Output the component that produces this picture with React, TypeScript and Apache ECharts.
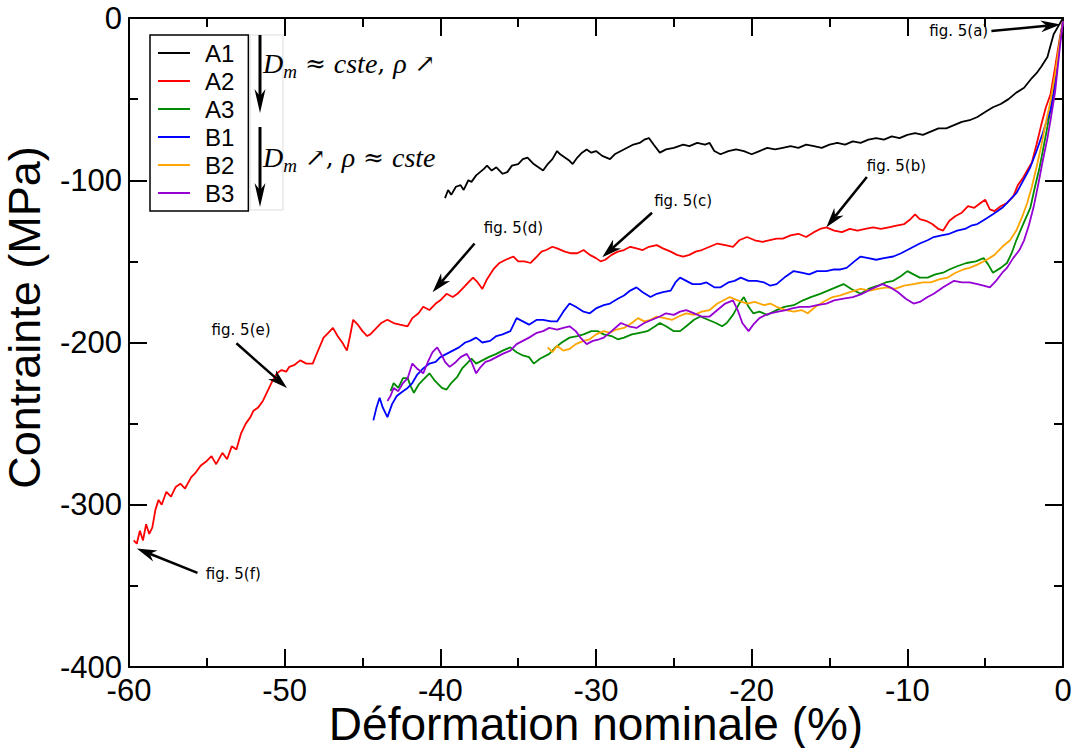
import React, { useEffect, useRef } from "react";
import * as echarts from "echarts";

const seriesNames = ["A1", "A2", "A3", "B1", "B2", "B3"];
const seriesColors = ["#000000", "#ff0000", "#008b00", "#0000ff", "#ffa500", "#9400d3"];

const A1 = [[-39.7,-111],[-39.5,-106],[-39.3,-109],[-39.0,-104],[-38.7,-103],[-38.5,-106],[-38.2,-100],[-38.0,-101],[-37.7,-97],[-37.45,-95],[-37.2,-93],[-37.0,-91],[-36.7,-94],[-36.4,-92],[-36.0,-96],[-35.7,-95],[-35.4,-91],[-35.0,-90],[-34.7,-87],[-34.4,-86],[-34.0,-90],[-33.7,-92],[-33.4,-94],[-33.1,-90],[-32.8,-87],[-32.5,-82],[-32.3,-84],[-32.0,-86],[-31.7,-88],[-31.5,-90],[-31.2,-86],[-30.9,-83],[-30.6,-81],[-30.3,-83],[-30.0,-82],[-29.6,-85],[-29.1,-87],[-28.8,-84],[-28.4,-82],[-28.0,-80],[-27.6,-78],[-27.2,-77],[-26.9,-75],[-26.6,-74],[-26.3,-78],[-25.9,-83],[-25.5,-81],[-25.0,-80],[-24.4,-78],[-24.0,-79],[-23.5,-77],[-23.0,-78],[-22.7,-77],[-22.4,-82],[-22.0,-84],[-21.5,-82],[-21.0,-81],[-20.5,-82],[-20.0,-84],[-19.5,-82],[-19.0,-80],[-18.5,-81],[-18.0,-80],[-17.5,-79],[-17.0,-80],[-16.5,-78],[-16.0,-79],[-15.5,-80],[-15.0,-78],[-14.5,-77],[-14.0,-78],[-13.5,-76],[-13.0,-77],[-12.5,-75],[-12.0,-74],[-11.5,-75],[-11.0,-73],[-10.5,-74],[-10.0,-72],[-9.5,-71],[-9.0,-72],[-8.5,-70],[-8.0,-68],[-7.5,-68],[-7.0,-66],[-6.5,-64],[-6.0,-63],[-5.5,-61],[-5.0,-58],[-4.5,-55],[-4.0,-53],[-3.5,-50],[-3.0,-46],[-2.5,-43],[-2.0,-37],[-1.7,-34],[-1.4,-30],[-1.0,-24],[-0.8,-17],[-0.6,-10],[-0.3,-5],[0,0]];

const A2 = [[-59.7,-322],[-59.5,-324],[-59.3,-316],[-59.1,-322],[-58.9,-312],[-58.7,-318],[-58.5,-314],[-58.3,-303],[-58.1,-297],[-57.9,-300],[-57.6,-292],[-57.3,-295],[-57.0,-289],[-56.7,-287],[-56.4,-290],[-56.0,-283],[-55.7,-280],[-55.4,-276],[-55.0,-273],[-54.7,-270],[-54.4,-275],[-54.0,-268],[-53.7,-272],[-53.4,-264],[-53.1,-266],[-52.8,-256],[-52.5,-250],[-52.2,-246],[-52.0,-242],[-51.7,-240],[-51.4,-236],[-51.1,-230],[-50.8,-224],[-50.5,-219],[-50.2,-217],[-49.9,-218],[-49.7,-215],[-49.4,-214],[-49.0,-211],[-48.6,-213],[-48.2,-213],[-47.9,-206],[-47.5,-197],[-47.2,-194],[-46.9,-191],[-46.6,-196],[-46.3,-200],[-46.0,-205],[-45.8,-196],[-45.6,-186],[-45.3,-189],[-45.0,-193],[-44.7,-196],[-44.5,-195],[-44.1,-191],[-43.8,-188],[-43.4,-186],[-43.0,-188],[-42.6,-189],[-42.1,-190],[-41.8,-185],[-41.4,-182],[-41.1,-178],[-40.7,-180],[-40.3,-176],[-40.0,-174],[-39.6,-170],[-39.2,-172],[-38.9,-170],[-38.5,-166],[-38.2,-163],[-37.9,-160],[-37.6,-163],[-37.3,-167],[-37.0,-161],[-36.6,-155],[-36.2,-151],[-35.8,-149],[-35.3,-147],[-35.0,-150],[-34.6,-150],[-34.2,-151],[-33.8,-147],[-33.5,-144],[-33.2,-143],[-32.8,-141],[-32.5,-142],[-32.0,-144],[-31.6,-145],[-31.2,-145],[-30.8,-143],[-30.4,-146],[-30.0,-148],[-29.7,-150],[-29.4,-149],[-29.0,-146],[-28.6,-144],[-28.2,-143],[-27.8,-141],[-27.4,-142],[-27.0,-143],[-26.6,-141],[-26.1,-140],[-25.7,-142],[-25.2,-144],[-24.8,-146],[-24.4,-147],[-24.0,-146],[-23.6,-144],[-23.2,-143],[-22.7,-141],[-22.2,-139],[-21.7,-140],[-21.2,-141],[-20.8,-137],[-20.3,-135],[-19.8,-137],[-19.3,-138],[-18.9,-137],[-18.4,-136],[-18.0,-136],[-17.5,-134],[-17.0,-133],[-16.5,-135],[-16.0,-132],[-15.6,-130],[-15.2,-129],[-14.7,-131],[-14.2,-132],[-13.7,-130],[-13.2,-131],[-12.7,-130],[-12.2,-129],[-11.7,-130],[-11.2,-129],[-10.7,-128],[-10.2,-127],[-9.8,-124],[-9.5,-121],[-9.2,-124],[-8.8,-125],[-8.4,-127],[-8.0,-130],[-7.7,-131],[-7.3,-125],[-6.9,-122],[-6.5,-120],[-6.1,-116],[-5.7,-117],[-5.3,-114],[-5.0,-112],[-4.7,-118],[-4.4,-119],[-4.0,-116],[-3.6,-114],[-3.2,-110],[-2.9,-103],[-2.6,-99],[-2.3,-94],[-2.0,-89],[-1.7,-78],[-1.4,-66],[-1.1,-55],[-0.8,-47],[-0.5,-30],[-0.2,-12],[0,-2]];

const A3 = [[-43.2,-230],[-43.0,-225],[-42.7,-228],[-42.4,-222],[-42.1,-222],[-41.9,-227],[-41.7,-231],[-41.4,-226],[-41.0,-222],[-40.7,-219],[-40.4,-223],[-40.2,-225],[-39.9,-228],[-39.6,-229],[-39.3,-225],[-38.9,-221],[-38.6,-216],[-38.3,-213],[-38.0,-210],[-37.7,-213],[-37.3,-211],[-36.9,-209],[-36.4,-207],[-36.0,-205],[-35.5,-203],[-35.1,-206],[-34.7,-208],[-34.3,-209],[-34.0,-213],[-33.6,-210],[-33.0,-207],[-32.6,-203],[-32.2,-200],[-31.7,-197],[-31.2,-196],[-30.8,-195],[-30.3,-193],[-29.9,-193],[-29.5,-195],[-29.0,-196],[-28.6,-198],[-28.2,-197],[-27.7,-195],[-27.2,-194],[-26.7,-193],[-26.2,-190],[-25.9,-188],[-25.5,-190],[-25.0,-193],[-24.6,-193],[-24.2,-190],[-23.7,-186],[-23.3,-184],[-22.8,-186],[-22.3,-188],[-21.9,-190],[-21.6,-188],[-21.2,-183],[-20.8,-176],[-20.5,-172],[-20.2,-178],[-19.9,-182],[-19.5,-181],[-19.0,-183],[-18.4,-180],[-17.9,-178],[-17.3,-177],[-16.7,-174],[-16.2,-172],[-15.6,-170],[-15.1,-168],[-14.6,-166],[-14.1,-164],[-13.6,-167],[-13.0,-170],[-12.5,-167],[-11.9,-165],[-11.4,-163],[-10.9,-162],[-10.4,-159],[-10.0,-156],[-9.6,-158],[-9.2,-160],[-8.7,-160],[-8.2,-158],[-7.7,-157],[-7.3,-155],[-6.8,-153],[-6.2,-151],[-5.6,-150],[-5.1,-148],[-4.8,-152],[-4.5,-157],[-4.0,-154],[-3.6,-151],[-3.3,-145],[-3.0,-137],[-2.6,-128],[-2.1,-117],[-1.8,-104],[-1.5,-92],[-1.2,-77],[-1.0,-67],[-0.7,-51],[-0.4,-30],[-0.2,-14],[0,-2]];

const B1 = [[-44.3,-248],[-44.1,-240],[-43.9,-234],[-43.7,-240],[-43.4,-246],[-43.1,-238],[-42.8,-233],[-42.4,-230],[-42.1,-228],[-41.8,-225],[-41.5,-220],[-41.1,-216],[-40.7,-213],[-40.3,-212],[-40.0,-209],[-39.6,-207],[-39.2,-205],[-38.8,-203],[-38.4,-200],[-38.1,-199],[-37.7,-197],[-37.3,-200],[-36.8,-199],[-36.4,-196],[-36.0,-195],[-35.5,-193],[-35.1,-185],[-34.7,-187],[-34.3,-189],[-33.8,-186],[-33.4,-186],[-32.9,-187],[-32.5,-187],[-32.1,-181],[-31.7,-176],[-31.3,-178],[-30.8,-181],[-30.4,-182],[-30.0,-179],[-29.5,-177],[-29.1,-176],[-28.6,-173],[-28.2,-171],[-27.8,-168],[-27.4,-166],[-27.0,-169],[-26.5,-172],[-26.1,-170],[-25.7,-169],[-25.2,-168],[-24.9,-163],[-24.6,-160],[-24.2,-162],[-23.8,-164],[-23.3,-164],[-22.9,-163],[-22.4,-166],[-22.0,-166],[-21.5,-163],[-21.1,-162],[-20.7,-160],[-20.2,-162],[-19.7,-162],[-19.2,-163],[-18.8,-165],[-18.4,-164],[-17.9,-160],[-17.3,-156],[-16.8,-157],[-16.3,-158],[-15.8,-156],[-15.2,-156],[-14.7,-155],[-14.3,-155],[-13.9,-154],[-13.4,-150],[-13.0,-147],[-12.5,-148],[-12.0,-149],[-11.5,-148],[-10.9,-147],[-10.4,-145],[-10.0,-143],[-9.6,-141],[-9.2,-139],[-8.7,-137],[-8.3,-135],[-7.8,-134],[-7.3,-133],[-6.8,-131],[-6.3,-130],[-5.9,-128],[-5.5,-127],[-5.0,-124],[-4.5,-121],[-3.9,-117],[-3.5,-113],[-3.0,-108],[-2.6,-101],[-2.1,-92],[-1.7,-82],[-1.3,-71],[-1.0,-62],[-0.8,-57],[-0.5,-40],[-0.2,-15],[0,-2]];

const B2 = [[-33.1,-203],[-32.8,-206],[-32.5,-202],[-32.1,-205],[-31.7,-204],[-31.3,-201],[-30.8,-199],[-30.4,-198],[-30.0,-195],[-29.5,-193],[-29.1,-194],[-28.7,-192],[-28.2,-191],[-27.7,-188],[-27.3,-185],[-26.9,-187],[-26.5,-186],[-26.1,-184],[-25.6,-185],[-25.1,-186],[-24.7,-184],[-24.2,-182],[-23.7,-183],[-23.2,-181],[-22.7,-180],[-22.2,-176],[-21.8,-174],[-21.4,-172],[-20.9,-174],[-20.3,-176],[-19.8,-175],[-19.2,-177],[-18.8,-176],[-18.4,-178],[-17.8,-180],[-17.3,-181],[-16.8,-180],[-16.4,-182],[-15.9,-178],[-15.4,-175],[-14.8,-172],[-14.3,-171],[-13.7,-169],[-13.0,-167],[-12.4,-168],[-11.9,-167],[-11.3,-166],[-10.8,-167],[-10.2,-165],[-9.6,-164],[-9.0,-163],[-8.5,-163],[-7.9,-161],[-7.4,-160],[-6.9,-157],[-6.4,-155],[-6.0,-154],[-5.5,-152],[-4.9,-149],[-4.4,-146],[-3.9,-141],[-3.4,-137],[-3.0,-131],[-2.6,-122],[-2.3,-114],[-2.0,-104],[-1.7,-92],[-1.4,-79],[-1.2,-69],[-0.8,-51],[-0.5,-34],[-0.2,-14],[0,-2]];

const B3 = [[-43.4,-236],[-43.2,-233],[-43.0,-228],[-42.7,-230],[-42.4,-225],[-42.1,-222],[-41.8,-213],[-41.5,-216],[-41.1,-219],[-40.8,-212],[-40.5,-206],[-40.2,-203],[-39.9,-208],[-39.7,-212],[-39.4,-215],[-39.0,-212],[-38.7,-209],[-38.3,-207],[-38.0,-212],[-37.7,-219],[-37.4,-215],[-37.1,-212],[-36.8,-211],[-36.4,-209],[-36.0,-207],[-35.5,-205],[-35.1,-201],[-34.7,-199],[-34.3,-197],[-33.8,-194],[-33.4,-193],[-33.0,-191],[-32.5,-192],[-32.1,-191],[-31.7,-190],[-31.3,-193],[-31.0,-197],[-30.6,-201],[-30.2,-199],[-29.8,-198],[-29.5,-197],[-29.0,-193],[-28.4,-188],[-27.9,-190],[-27.4,-191],[-26.9,-188],[-26.4,-186],[-25.9,-184],[-25.5,-182],[-25.0,-183],[-24.6,-181],[-24.2,-180],[-23.7,-182],[-23.2,-184],[-22.7,-184],[-22.2,-180],[-21.7,-176],[-21.2,-174],[-20.9,-180],[-20.6,-188],[-20.2,-193],[-19.9,-189],[-19.5,-185],[-19.1,-183],[-18.8,-182],[-18.3,-181],[-17.8,-180],[-17.4,-179],[-16.9,-178],[-16.3,-178],[-15.8,-177],[-15.2,-176],[-14.7,-174],[-14.1,-173],[-13.5,-172],[-12.9,-170],[-12.3,-167],[-11.6,-164],[-11.1,-166],[-10.6,-169],[-10.1,-173],[-9.6,-176],[-9.2,-175],[-8.7,-172],[-8.3,-170],[-7.7,-166],[-7.0,-162],[-6.5,-163],[-6.0,-163],[-5.5,-164],[-5.1,-165],[-4.7,-166],[-4.3,-162],[-3.9,-157],[-3.6,-154],[-3.2,-148],[-2.8,-143],[-2.5,-137],[-2.2,-128],[-1.9,-117],[-1.6,-103],[-1.3,-88],[-1.0,-74],[-0.8,-63],[-0.5,-45],[-0.2,-18],[0,-2]];

const seriesData = [A1, A2, A3, B1, B2, B3];

// annotations (data coordinates)
const annLabels = ["fig. 5(a)", "fig. 5(b)", "fig. 5(c)", "fig. 5(d)", "fig. 5(e)", "fig. 5(f)"];
const annText = [[-6.7, -8], [-10.7, -91], [-24.4, -113], [-35.3, -129.5], [-52.8, -192.5], [-53.3, -342.5]];
const annTail = [[-4.6, -8], [-12.6, -98], [-26.4, -120], [-37.8, -139], [-53.1, -200.5], [-55.6, -342]];
const annHead = [[-0.15, -4], [-15.2, -129], [-29.6, -147.5], [-40.5, -169], [-49.85, -228], [-59.5, -327]];

const TICK_FONT = "Liberation Sans, Arial, Helvetica, sans-serif";

function arrowGraphic(x1: number, y1: number, x2: number, y2: number, L: number, W: number, lw: number) {
  const dx = x2 - x1, dy = y2 - y1;
  const len = Math.sqrt(dx * dx + dy * dy);
  const ux = dx / len, uy = dy / len;
  const px = -uy, py = ux;
  const bx = x2 - ux * L, by = y2 - uy * L;
  const nx = x2 - ux * L * 0.7, ny = y2 - uy * L * 0.7;
  return [
    { type: "line", shape: { x1, y1, x2: nx, y2: ny }, style: { stroke: "#000", lineWidth: lw }, silent: true, z: 100 },
    {
      type: "polygon",
      shape: { points: [[x2, y2], [bx + px * W / 2, by + py * W / 2], [nx, ny], [bx - px * W / 2, by - py * W / 2]] },
      style: { fill: "#000" },
      silent: true,
      z: 100,
    },
  ];
}

export default function App() {
  const ref = useRef<HTMLDivElement>(null);
  useEffect(() => {
    document.body.style.margin = "0";
    const chart = echarts.init(ref.current!, null, { renderer: "svg" });
    const axisCommon = {
      type: "value",
      axisLine: { show: true, onZero: false, lineStyle: { color: "#000", width: 2 } },
      axisTick: { show: true, inside: true, length: 18, lineStyle: { color: "#000", width: 2 } },
      minorTick: { show: true, splitNumber: 2, length: 9, lineStyle: { color: "#000", width: 2 } },
      splitLine: { show: false },
      minorSplitLine: { show: false },
    };
    const labelStyle = { color: "#000", fontSize: 31, fontFamily: TICK_FONT, showMinLabel: true, showMaxLabel: true };
    const option: any = {
      animation: false,
      backgroundColor: "#fff",
      grid: { left: 129, right: 14, top: 18, bottom: 81, containLabel: false, outerBoundsMode: "none" },
      xAxis: [
        {
          ...axisCommon,
          position: "bottom",
          min: -60,
          max: 0,
          interval: 10,
          axisLabel: { ...labelStyle, margin: 8 },
          name: "Déformation nominale (%)",
          nameLocation: "middle",
          nameGap: 34,
          nameMoveOverlap: false,
          nameTextStyle: { color: "#000", fontSize: 46, fontFamily: TICK_FONT, verticalAlign: "top" },
        },
        {
          ...axisCommon,
          position: "top",
          min: -60,
          max: 0,
          interval: 10,
          axisLabel: { show: false },
        },
      ],
      yAxis: [
        {
          ...axisCommon,
          position: "left",
          min: -400,
          max: 0,
          interval: 100,
          axisLabel: { ...labelStyle, margin: 7 },
          name: "Contrainte (MPa)",
          nameLocation: "middle",
          nameGap: 82,
          nameRotate: 90,
          nameMoveOverlap: false,
          nameTextStyle: { color: "#000", fontSize: 45, fontFamily: TICK_FONT, padding: [0, 0, 0, 50] },
        },
        {
          ...axisCommon,
          position: "right",
          min: -400,
          max: 0,
          interval: 100,
          axisLabel: { show: false },
        },
      ],
      legend: {
        show: true,
        orient: "vertical",
        left: 150,
        top: 35,
        padding: [6, 14, 6, 8],
        itemGap: 4,
        itemWidth: 32,
        itemHeight: 2,
        icon: "rect",
        borderColor: "#000",
        borderWidth: 1.5,
        backgroundColor: "#fff",
        data: seriesNames,
        selectedMode: false,
        textStyle: { color: "#000", fontSize: 24, fontFamily: TICK_FONT, padding: [0, 0, 0, 10] },
      },
      series: seriesNames.map((name, i) => ({
        name,
        type: "line",
        data: seriesData[i],
        showSymbol: false,
        symbol: "none",
        lineStyle: { color: seriesColors[i], width: 1.8 },
        itemStyle: { color: seriesColors[i] },
        z: 2 + i,
      })),
    };
    chart.setOption(option);

    const graphics: any[] = [];
    // gray box with the two arrows and the math texts
    graphics.push({ type: "rect", shape: { x: 250, y: 35, width: 33, height: 175 }, style: { fill: "#fff", stroke: "#dcdcdc", lineWidth: 1 }, silent: true, z: 90 });
    graphics.push(...arrowGraphic(260, 35, 260, 113, 24, 11, 3));
    graphics.push(...arrowGraphic(260, 127, 260, 207, 24, 11, 3));
    const rich = {
      d: { fontFamily: "Liberation Serif, serif", fontStyle: "italic", fontSize: 28, lineHeight: 36, verticalAlign: "middle", fill: "#000" },
      s: { fontFamily: "Liberation Serif, serif", fontStyle: "italic", fontSize: 19, lineHeight: 21, verticalAlign: "bottom", fill: "#000" },
      r: { fontFamily: "DejaVu Serif, Liberation Serif, serif", fontSize: 25, lineHeight: 36, verticalAlign: "middle", fill: "#000" },
    };
    graphics.push({
      type: "text",
      x: 263,
      y: 63,
      silent: true,
      z: 100,
      style: { text: "{d|D}{s|m}{r| ≈ }{d|cste}{r|, }{d|ρ}{r| ↗}", rich, verticalAlign: "middle", align: "left" },
    });
    graphics.push({
      type: "text",
      x: 263,
      y: 157,
      silent: true,
      z: 100,
      style: { text: "{d|D}{s|m}{r| ↗, }{d|ρ}{r| ≈ }{d|cste}", rich, verticalAlign: "middle", align: "left" },
    });
    // figure annotations
    annLabels.forEach((lab, i) => {
      const t = chart.convertToPixel({ gridIndex: 0 }, annText[i]) as number[];
      const a = chart.convertToPixel({ gridIndex: 0 }, annTail[i]) as number[];
      const b = chart.convertToPixel({ gridIndex: 0 }, annHead[i]) as number[];
      graphics.push({
        type: "text",
        x: t[0],
        y: t[1],
        silent: true,
        z: 100,
        style: { text: lab, fill: "#000", fontSize: 15, fontFamily: "DejaVu Sans, sans-serif", align: "center", verticalAlign: "middle" },
      });
      graphics.push(...arrowGraphic(a[0], a[1], b[0], b[1], 20, 12, 2.5));
    });
    chart.setOption({ graphic: graphics });

    return () => chart.dispose();
  }, []);
  return <div ref={ref} style={{ width: 1077, height: 748 }} />;
}
